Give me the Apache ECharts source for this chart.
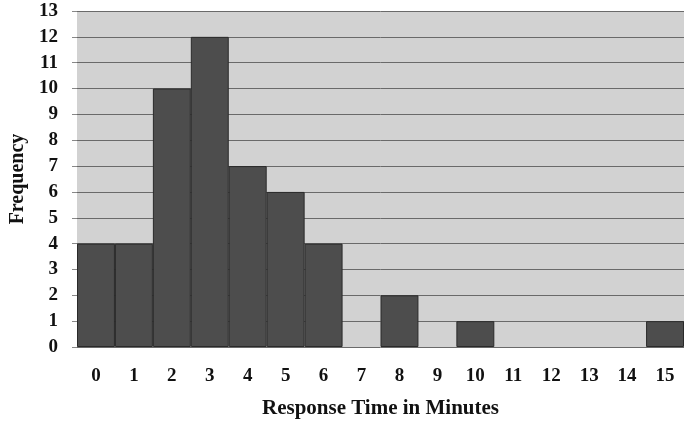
<!DOCTYPE html>
<html>
<head>
<meta charset="utf-8">
<script src="https://cdn.jsdelivr.net/npm/echarts@6/dist/echarts.min.js"></script>
<style>
html,body{margin:0;padding:0;background:#fff;}
#chart{width:684px;height:423px;}
</style>
</head>
<body>
<div id="chart"></div>
<script>
const categories = ['0','1','2','3','4','5','6','7','8','9','10','11','12','13','14','15'];
const frequency = [4, 4, 10, 12, 7, 6, 4, 0, 2, 0, 1, 0, 0, 0, 0, 1];
const yTicks = [0,1,2,3,4,5,6,7,8,9,10,11,12,13];

const chart = echarts.init(document.getElementById('chart'));
const font = '"Liberation Serif", "DejaVu Serif", serif';
chart.setOption({
  animation: false,
  grid: {left: 77, right: 0, top: 11, bottom: 76, outerBoundsMode: 'none', containLabel: false, show: true, backgroundColor: '#d2d2d2', borderWidth: 0},
  xAxis: {
    type: 'category',
    data: categories,
    axisLine: {show: false},
    axisTick: {show: false},
    axisLabel: {color: '#111', fontFamily: font, fontWeight: 'bold', fontSize: 19, margin: 20},
    name: 'Response Time in Minutes',
    nameLocation: 'middle',
    nameGap: 51,
    nameTextStyle: {color: '#111', fontFamily: font, fontWeight: 'bold', fontSize: 21}
  },
  yAxis: {
    type: 'value',
    min: yTicks[0],
    max: yTicks[yTicks.length - 1],
    interval: 1,
    axisLine: {show: false},
    axisTick: {show: true, length: 5, lineStyle: {color: '#888'}},
    axisLabel: {color: '#111', fontFamily: font, fontWeight: 'bold', fontSize: 19, margin: 19},
    splitLine: {show: true, lineStyle: {color: '#6a6a6a', width: 1}},
    name: 'Frequency',
    nameLocation: 'middle',
    nameGap: 48,
    nameTextStyle: {color: '#111', fontFamily: font, fontWeight: 'bold', fontSize: 20}
  },
  series: [{
    type: 'bar',
    data: frequency.map(v => ({value: v, itemStyle: v === 0 ? {borderWidth: 0, opacity: 0} : undefined})),
    barCategoryGap: '0%',
    itemStyle: {color: '#4d4d4d', borderColor: '#2a2a2a', borderWidth: 1}
  }]
});
</script>
</body>
</html>
